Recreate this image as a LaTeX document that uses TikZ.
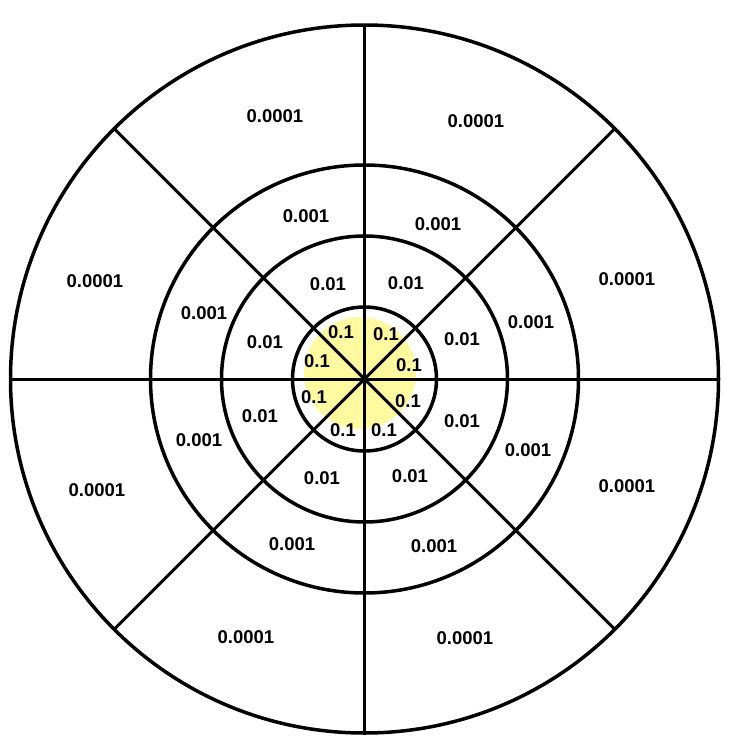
\documentclass[tikz,border=0pt]{standalone}
\usepackage{fontspec}
\setmainfont{Liberation Sans}
\usepackage{tikz}
\definecolor{paleyellow}{RGB}{255,250,160}
\tikzset{
  ring/.style={draw=black,line width=3.5pt},
  spoke/.style={draw=black,line width=3pt},
  glow/.style={fill=paleyellow},
  lbl/.style={font=\fontsize{18.5}{22}\selectfont\bfseries,inner sep=0pt}
}
\begin{document}
\begin{tikzpicture}[x=1pt,y=-1pt]
  \useasboundingbox (0,0) rectangle (730,756);
  \coordinate (o) at (364.5,379);
  \coordinate (g) at (360,373);
  \fill[glow] (g) circle (56pt);
  \draw[ring] (o) circle (72pt);
  \draw[ring] (o) circle (143pt);
  \draw[ring] (o) circle (214pt);
  \draw[ring] (o) circle (354pt);
  \coordinate (n) at ([shift={(90:354pt)}]o);
  \coordinate (s) at ([shift={(270:354pt)}]o);
  \coordinate (w) at ([shift={(180:354pt)}]o);
  \coordinate (e) at ([shift={(0:354pt)}]o);
  \coordinate (nw) at ([shift={(135:354pt)}]o);
  \coordinate (se) at ([shift={(315:354pt)}]o);
  \coordinate (ne) at ([shift={(45:354pt)}]o);
  \coordinate (sw) at ([shift={(225:354pt)}]o);
  \draw[spoke] (n) -- (s);
  \draw[spoke] (w) -- (e);
  \draw[spoke] (nw) -- (se);
  \draw[spoke] (ne) -- (sw);

  \node[lbl] (a1) at (275,116) {0.0001};
  \node[lbl] (a2) at (476,121) {0.0001};
  \node[lbl] (a3) at (95,281) {0.0001};
  \node[lbl] (a4) at (627,279) {0.0001};
  \node[lbl] (a5) at (97,490) {0.0001};
  \node[lbl] (a6) at (627,486) {0.0001};
  \node[lbl] (a7) at (246,637) {0.0001};
  \node[lbl] (a8) at (465,638) {0.0001};

  \node[lbl] (b1) at (306,216) {0.001};
  \node[lbl] (b2) at (438,224) {0.001};
  \node[lbl] (b3) at (204,313) {0.001};
  \node[lbl] (b4) at (531,322) {0.001};
  \node[lbl] (b5) at (199,440) {0.001};
  \node[lbl] (b6) at (528,450) {0.001};
  \node[lbl] (b7) at (292,544) {0.001};
  \node[lbl] (b8) at (434,546) {0.001};

  \node[lbl] (c1) at (328,284) {0.01};
  \node[lbl] (c2) at (406,283) {0.01};
  \node[lbl] (c3) at (265,342) {0.01};
  \node[lbl] (c4) at (462,339) {0.01};
  \node[lbl] (c5) at (260,416) {0.01};
  \node[lbl] (c6) at (462,421) {0.01};
  \node[lbl] (c7) at (322,478) {0.01};
  \node[lbl] (c8) at (410,476) {0.01};

  \node[lbl] (d1) at (341,332) {0.1};
  \node[lbl] (d2) at (386,334) {0.1};
  \node[lbl] (d3) at (317,361) {0.1};
  \node[lbl] (d4) at (409,365) {0.1};
  \node[lbl] (d5) at (314,397) {0.1};
  \node[lbl] (d6) at (408,401) {0.1};
  \node[lbl] (d7) at (343,430) {0.1};
  \node[lbl] (d8) at (384,430) {0.1};
\end{tikzpicture}
\end{document}
